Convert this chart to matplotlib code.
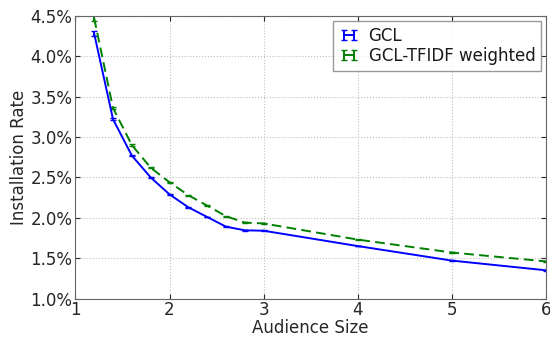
import numpy as np
import matplotlib.pyplot as plt
from matplotlib.ticker import FormatStrFormatter
from matplotlib.legend_handler import HandlerErrorbar
from matplotlib.container import ErrorbarContainer

# audience size vs installation rate (%)
audience = [1.2, 1.4, 1.6, 1.8, 2.0, 2.2, 2.4, 2.6, 2.8, 3.0, 4.0, 5.0, 6.0]
gcl = [4.28, 3.22, 2.77, 2.50, 2.29, 2.13, 2.01, 1.89, 1.845, 1.84, 1.65, 1.47, 1.35]
gcl_err = [0.03, 0.015, 0.01, 0.008, 0.006, 0.005, 0.005, 0.004, 0.004, 0.004, 0.003, 0.003, 0.003]
gcl_tfidf = [4.47, 3.36, 2.90, 2.62, 2.44, 2.28, 2.15, 2.02, 1.94, 1.93, 1.73, 1.57, 1.46]
tfidf_err = [0.04, 0.015, 0.01, 0.008, 0.006, 0.005, 0.005, 0.004, 0.004, 0.004, 0.003, 0.003, 0.003]

plt.rcParams['font.family'] = ['DejaVu Sans']

fig = plt.figure(figsize=(5.5, 3.37), dpi=100)
ax = fig.add_axes([0.137, 0.114, 0.856, 0.839])

ax.errorbar(audience, gcl, yerr=gcl_err, color='b', lw=1.4, capsize=2, label='GCL')
ax.errorbar(audience, gcl_tfidf, yerr=tfidf_err, color='g', lw=1.4, ls='--',
            dashes=(5, 2.7), capsize=2, label='GCL-TFIDF weighted')

ax.set_xlim(1, 6)
ax.set_ylim(1.0, 4.5)
ax.set_yticks(np.arange(1.0, 4.51, 0.5))
ax.yaxis.set_major_formatter(FormatStrFormatter('%.1f%%'))
ax.tick_params(direction='in', labelsize=12, top=True, right=True, colors='0.15', pad=2)
ax.grid(True, ls=':', color='0.75', lw=0.8)
for s in ax.spines.values():
    s.set_color('0.4')

ax.set_xlabel('Audience Size', fontsize=12, color='0.15', labelpad=0)
ax.set_ylabel('Installation Rate', fontsize=12, color='0.15', labelpad=2)

leg = ax.legend(loc='upper right', fontsize=12, fancybox=False, numpoints=2,
                handlelength=1.2, borderaxespad=0.3, handletextpad=0.6,
                labelspacing=0.15, borderpad=0.35,
                handler_map={ErrorbarContainer: HandlerErrorbar(yerr_size=0.3)})
leg.get_frame().set_edgecolor('0.5')
for t in leg.get_texts():
    t.set_color('0.1')

fig.savefig('out.png', dpi=100, facecolor='white')
